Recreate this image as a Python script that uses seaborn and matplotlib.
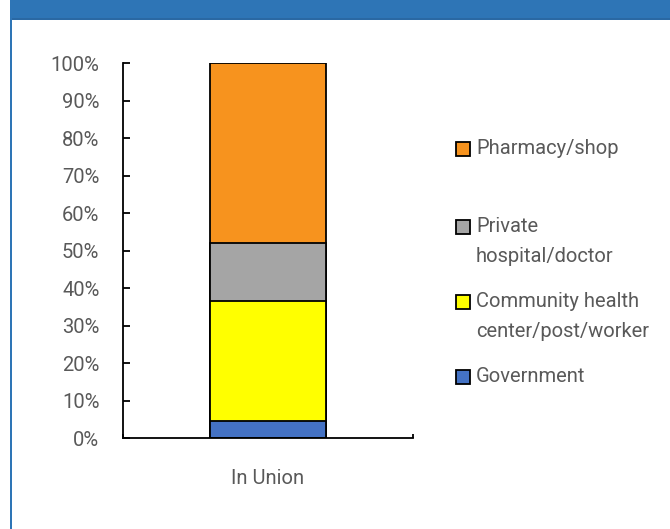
import matplotlib
matplotlib.use("Agg")
import matplotlib.pyplot as plt
from matplotlib.patches import Rectangle
from matplotlib.ticker import PercentFormatter
import numpy as np
import pandas as pd
import seaborn as sns

# data (shares of source, bottom to top)
group = "In Union"
sources = ["Government", "Community health\ncenter/post/worker", "Private\nhospital/doctor", "Pharmacy/shop"]
shares = [0.046, 0.320, 0.154, 0.480]
colors = ["#4472C4", "#FFFF00", "#A5A5A5", "#F7931E"]

sns.set_style("white")
plt.rcParams["font.family"] = ["Roboto", "DejaVu Sans"]
text_col = "#595959"

W, H = 670, 529
fig = plt.figure(figsize=(W / 100, H / 100), dpi=100)
ax = fig.add_axes([123 / W, 1 - 438 / H, 290 / W, (438 - 63.3) / H])

# stacked bar: overlay cumulative totals, tallest first
df = pd.DataFrame({"group": group, "source": sources, "share": shares, "color": colors})
df["cum"] = df["share"].cumsum()
for _, row in df.iloc[::-1].iterrows():
    sns.barplot(x=[row["group"]], y=[row["cum"]], color=row["color"], saturation=1,
                width=0.4, edgecolor="black", linewidth=1.3, ax=ax)

ax.set_xlim(-0.5, 0.5)
ax.set_ylim(0, 1)
ax.set_yticks(np.arange(0, 1.01, 0.1))
ax.yaxis.set_major_formatter(PercentFormatter(1.0, decimals=0))
ax.set_xlabel("")
ax.set_ylabel("")
for s in ["top", "right"]:
    ax.spines[s].set_visible(False)
for s in ["left", "bottom"]:
    ax.spines[s].set_color("black")
    ax.spines[s].set_linewidth(1.3)
ax.tick_params(axis="y", direction="in", length=5, width=1.3, color="black",
               pad=17, labelsize=14.5, labelcolor=text_col, left=True)
ax.tick_params(axis="x", which="major", length=0, pad=22, labelsize=14.5, labelcolor=text_col)
ax.set_xticks([-0.5, 0.5], minor=True)
ax.tick_params(axis="x", which="minor", direction="in", length=3, width=1.3, color="black", bottom=True)

# legend drawn by hand (square aligned with first line)
leg_y = [377, 302, 227, 149]
for src, col, yc in zip(sources, colors, leg_y):
    fig.add_artist(Rectangle((456 / W, 1 - (yc + 7) / H), 14 / W, 14 / H,
                             facecolor=col, edgecolor="black", linewidth=1.3,
                             transform=fig.transFigure))
    fig.text(476 / W, 1 - (yc - 10) / H, src, ha="left", va="top", fontsize=14.5,
             color=text_col, linespacing=1.75)

# frame: header band and left border
fig.add_artist(Rectangle((10 / W, 1 - 19 / H), 1 - 10 / W, 19 / H, facecolor="#2E75B6",
                         edgecolor="none", transform=fig.transFigure))
fig.add_artist(Rectangle((10 / W, 1 - 20 / H), 1 - 10 / W, 1.5 / H, facecolor="#2A68A3",
                         edgecolor="none", transform=fig.transFigure))
fig.add_artist(Rectangle((10 / W, 0), 2 / W, 1, facecolor="#2E75B6",
                         edgecolor="none", transform=fig.transFigure))

fig.savefig("out.png", dpi=100)
